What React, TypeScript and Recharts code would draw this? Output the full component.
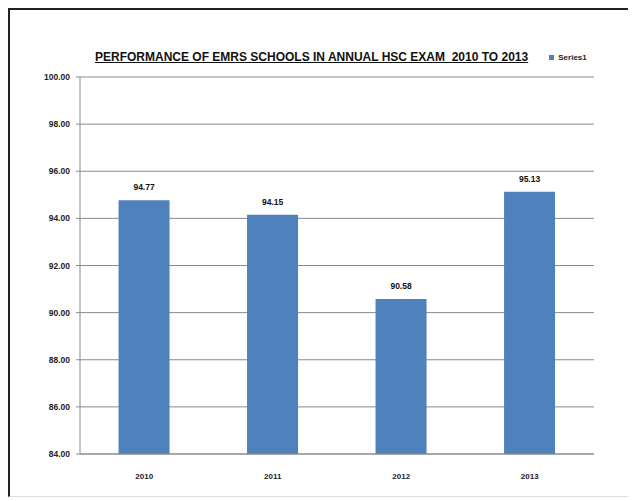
import React from 'react';
import { BarChart, Bar, XAxis, YAxis, CartesianGrid, Legend, LabelList } from 'recharts';

const years = ['2010', '2011', '2012', '2013'];
const series1 = [94.77, 94.15, 90.58, 95.13];
const yTicks = [84, 86, 88, 90, 92, 94, 96, 98, 100];

const data = years.map((year, i) => ({ year, Series1: series1[i] }));

const font = '"Liberation Sans", Arial, sans-serif';

export default function App() {
  return (
    <div style={{ position: 'relative', width: 624, height: 489, fontFamily: font, background: '#fff' }}>
      <div
        style={{
          position: 'absolute',
          inset: 0,
          borderTop: '2px solid #222',
          borderLeft: '2px solid #222',
          borderRight: '1px solid #ddd',
          borderBottom: '1px solid #ddd',
          boxSizing: 'border-box',
          pointerEvents: 'none',
        }}
      />
      <div
        style={{
          position: 'absolute',
          top: 42,
          left: 87,
          width: 430,
          textAlign: 'center',
          fontSize: 12,
          fontWeight: 'bold',
          textDecoration: 'underline',
          color: '#111',
          whiteSpace: 'nowrap',
        }}
      >
        PERFORMANCE OF EMRS SCHOOLS IN ANNUAL HSC EXAM&nbsp; 2010 TO 2013
      </div>
      <BarChart
        width={624}
        height={489}
        data={data}
        margin={{ top: 69, right: 38, bottom: 13, left: 0 }}
        barCategoryGap="30%"
      >
        <CartesianGrid vertical={false} stroke="#8a8a8a" strokeWidth={1} />
        <XAxis
          dataKey="year"
          height={30}
          tickLine={false}
          axisLine={{ stroke: '#8a8a8a' }}
          tick={{ fontSize: 8, fontWeight: 'bold', fill: '#222', fontFamily: font }}
          tickMargin={13}
        />
        <YAxis
          width={72}
          domain={[84, 100]}
          ticks={yTicks}
          interval={0}
          tickFormatter={(v: number) => v.toFixed(2)}
          axisLine={{ stroke: '#8a8a8a' }}
          tickLine={{ stroke: '#8a8a8a' }}
          tickSize={4}
          tickMargin={6}
          tick={{ fontSize: 8.5, fontWeight: 'bold', fill: '#222', fontFamily: font }}
        />
        <Legend
          layout="horizontal"
          verticalAlign="middle"
          align="center"
          iconType="square"
          iconSize={5}
          wrapperStyle={{ top: 45, left: 530, width: 70, fontSize: 8, fontWeight: 'bold', color: '#222' }}
          formatter={(value: string) => <span style={{ color: '#222' }}>{value}</span>}
        />
        <Bar dataKey="Series1" fill="#4f81bd" isAnimationActive={false}>
          <LabelList
            dataKey="Series1"
            position="top"
            offset={10}
            formatter={(v: number) => v.toFixed(2)}
            style={{ fontSize: 8.5, fontWeight: 'bold', fill: '#111', fontFamily: font }}
          />
        </Bar>
      </BarChart>
    </div>
  );
}
